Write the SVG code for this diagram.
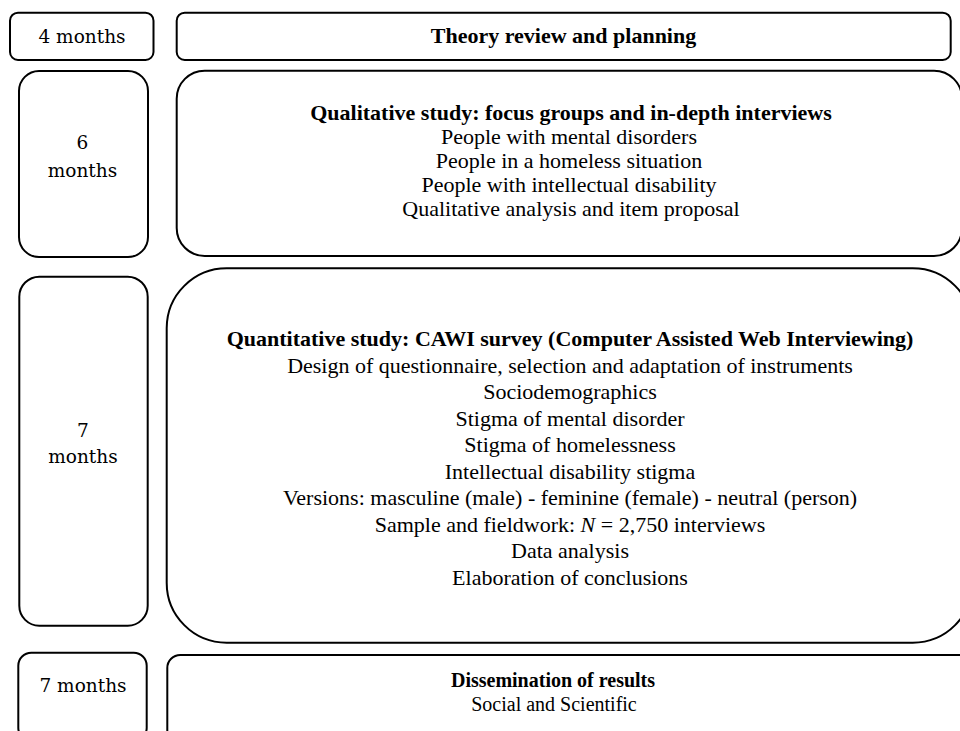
<svg xmlns="http://www.w3.org/2000/svg" width="960" height="731" viewBox="0 0 960 731">
<style>
.box{fill:#fff;stroke:#000;stroke-width:2}
text{font-family:"Liberation Serif","Times New Roman",serif;font-size:22px;fill:#000;text-anchor:middle}
.b{font-weight:bold}
.m{font-family:"DejaVu Serif","Liberation Serif",serif;font-size:18.5px}
.s{font-size:20px}
</style>
<rect width="960" height="731" fill="#fff"/>
<g id="connectors"></g>
<g id="t1"><rect class="box" x="10" y="12.7" width="143.5" height="47.3" rx="8"/><text class="m" x="82" y="43.3">4 months</text></g>
<g id="p1"><rect class="box" x="176.7" y="12.7" width="774" height="47.3" rx="8"/><text class="b" x="563.5" y="43.3">Theory review and planning</text></g>
<g id="t2"><rect class="box" x="19" y="71" width="129" height="186" rx="20"/><text class="m" x="82.5" y="149">6</text><text class="m" x="82.5" y="177">months</text></g>
<g id="p2"><rect class="box" x="176.7" y="70.7" width="785.3" height="185.3" rx="28"/>
<text class="b" x="571" y="120">Qualitative study: focus groups and in-depth interviews</text>
<text x="569" y="144">People with mental disorders</text>
<text x="569" y="168">People in a homeless situation</text>
<text x="569" y="192">People with intellectual disability</text>
<text x="571" y="216">Qualitative analysis and item proposal</text></g>
<g id="t3"><rect class="box" x="19.3" y="276.7" width="128.4" height="349" rx="20"/><text class="m" x="83" y="437">7</text><text class="m" x="83" y="463">months</text></g>
<g id="p3"><rect class="box" x="166.7" y="268.3" width="806" height="374.4" rx="60"/>
<text class="b" x="570" y="346">Quantitative study: CAWI survey (Computer Assisted Web Interviewing)</text>
<text x="570" y="372.5">Design of questionnaire, selection and adaptation of instruments</text>
<text x="570" y="399">Sociodemographics</text>
<text x="570" y="425.5">Stigma of mental disorder</text>
<text x="570" y="452">Stigma of homelessness</text>
<text x="570" y="478.5">Intellectual disability stigma</text>
<text x="570" y="505">Versions: masculine (male) - feminine (female) - neutral (person)</text>
<text x="570" y="531.5">Sample and fieldwork: <tspan font-style="italic">N</tspan> = 2,750 interviews</text>
<text x="570" y="558">Data analysis</text>
<text x="570" y="584.5">Elaboration of conclusions</text></g>
<g id="t4"><rect class="box" x="18.3" y="652.7" width="128.4" height="88" rx="13"/><text class="m" x="83" y="692">7 months</text></g>
<g id="p4"><rect class="box" x="167.3" y="655" width="810" height="88" rx="13"/>
<text class="b s" x="553" y="687">Dissemination of results</text>
<text class="s" x="554" y="711">Social and Scientific</text></g>
</svg>
